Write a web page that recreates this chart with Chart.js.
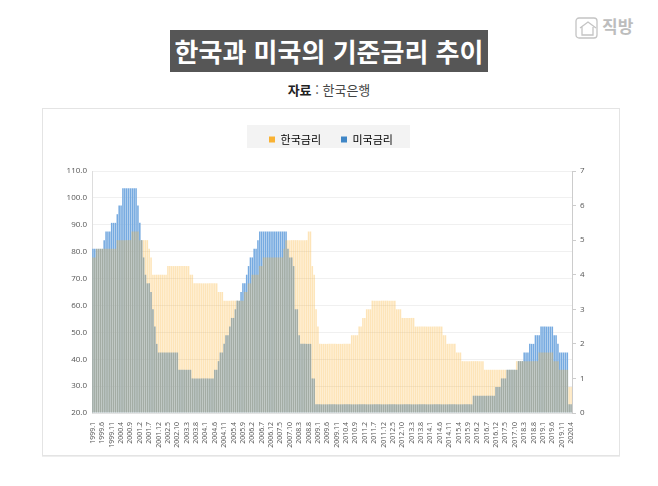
<!DOCTYPE html>
<html lang="ko">
<head>
<meta charset="utf-8">
<title>한국과 미국의 기준금리 추이</title>
<script src="https://cdn.jsdelivr.net/npm/chart.js@4"></script>
<style>
    body { margin: 0; background: #fff; font-family: "Noto Sans CJK KR", sans-serif; }
    #page { position: relative; width: 658px; height: 486px; overflow: hidden; }
    #title { position: absolute; left: 170px; top: 30px; width: 318px; height: 42px; background: #565656; color: #fff;
        font-size: 26px; font-weight: 700; line-height: 41px; text-align: center; white-space: nowrap; }
    #source { position: absolute; left: 170px; top: 81px; width: 318px; text-align: center; font-size: 13px; line-height: 18px; color: #444; }
    #source b { color: #222; }
    #logo { position: absolute; left: 575px; top: 14px; color: #bdbdbd; font-size: 17px; font-weight: 700; line-height: 24px; }
    #logo svg { position: absolute; left: 0; top: 2px; }
    #logo span { position: absolute; left: 27px; top: 0; white-space: nowrap; }
    #card { position: absolute; left: 42px; top: 108px; width: 576px; height: 346px; border: 1px solid #e4e4e4; box-shadow: 0 1px 0 #eee; }
    #legendBg { position: absolute; left: 247px; top: 125px; width: 163px; height: 23px; background: #f3f3f3; }
    #rateChart { position: absolute; left: 43px; top: 109px; }
</style>
</head>
<body>
<div id="page">
    <div id="title">한국과 미국의 기준금리 추이</div>
    <div id="source"><b>자료</b> : 한국은행</div>
    <div id="logo">
        <svg width="24" height="24" viewBox="0 0 24 24" fill="none" stroke="#c4c4c4" stroke-width="1.3">
            <rect x="1" y="2" width="21" height="20" rx="3"/>
            <path d="M5 12 L13 6 L21 12 M7 11 V19 H18 V11"/>
        </svg>
        <span>직방</span>
    </div>
    <div id="card"></div>
    <div id="legendBg"></div>
    <canvas id="rateChart" width="576" height="346"></canvas>
</div>
<script>
const months = [
    '1999.1','1999.2','1999.3','1999.4','1999.5','1999.6','1999.7','1999.8','1999.9','1999.10','1999.11','1999.12',
    '2000.1','2000.2','2000.3','2000.4','2000.5','2000.6','2000.7','2000.8','2000.9','2000.10','2000.11','2000.12',
    '2001.1','2001.2','2001.3','2001.4','2001.5','2001.6','2001.7','2001.8','2001.9','2001.10','2001.11','2001.12',
    '2002.1','2002.2','2002.3','2002.4','2002.5','2002.6','2002.7','2002.8','2002.9','2002.10','2002.11','2002.12',
    '2003.1','2003.2','2003.3','2003.4','2003.5','2003.6','2003.7','2003.8','2003.9','2003.10','2003.11','2003.12',
    '2004.1','2004.2','2004.3','2004.4','2004.5','2004.6','2004.7','2004.8','2004.9','2004.10','2004.11','2004.12',
    '2005.1','2005.2','2005.3','2005.4','2005.5','2005.6','2005.7','2005.8','2005.9','2005.10','2005.11','2005.12',
    '2006.1','2006.2','2006.3','2006.4','2006.5','2006.6','2006.7','2006.8','2006.9','2006.10','2006.11','2006.12',
    '2007.1','2007.2','2007.3','2007.4','2007.5','2007.6','2007.7','2007.8','2007.9','2007.10','2007.11','2007.12',
    '2008.1','2008.2','2008.3','2008.4','2008.5','2008.6','2008.7','2008.8','2008.9','2008.10','2008.11','2008.12',
    '2009.1','2009.2','2009.3','2009.4','2009.5','2009.6','2009.7','2009.8','2009.9','2009.10','2009.11','2009.12',
    '2010.1','2010.2','2010.3','2010.4','2010.5','2010.6','2010.7','2010.8','2010.9','2010.10','2010.11','2010.12',
    '2011.1','2011.2','2011.3','2011.4','2011.5','2011.6','2011.7','2011.8','2011.9','2011.10','2011.11','2011.12',
    '2012.1','2012.2','2012.3','2012.4','2012.5','2012.6','2012.7','2012.8','2012.9','2012.10','2012.11','2012.12',
    '2013.1','2013.2','2013.3','2013.4','2013.5','2013.6','2013.7','2013.8','2013.9','2013.10','2013.11','2013.12',
    '2014.1','2014.2','2014.3','2014.4','2014.5','2014.6','2014.7','2014.8','2014.9','2014.10','2014.11','2014.12',
    '2015.1','2015.2','2015.3','2015.4','2015.5','2015.6','2015.7','2015.8','2015.9','2015.10','2015.11','2015.12',
    '2016.1','2016.2','2016.3','2016.4','2016.5','2016.6','2016.7','2016.8','2016.9','2016.10','2016.11','2016.12',
    '2017.1','2017.2','2017.3','2017.4','2017.5','2017.6','2017.7','2017.8','2017.9','2017.10','2017.11','2017.12',
    '2018.1','2018.2','2018.3','2018.4','2018.5','2018.6','2018.7','2018.8','2018.9','2018.10','2018.11','2018.12',
    '2019.1','2019.2','2019.3','2019.4','2019.5','2019.6','2019.7','2019.8','2019.9','2019.10','2019.11','2019.12',
    '2020.1','2020.2','2020.3','2020.4'
];

// 한 줄이 1년치 (1월~12월)
const koreaRate = [
    4.5,4.5,4.75,4.75,4.75,4.75,4.75,4.75,4.75,4.75,4.75,4.75,
    4.75,5,5,5,5,5,5,5,5,5.25,5.25,5.25,
    5.25,5,5,5,5,5,4.75,4.5,4,4,4,4,
    4,4,4,4,4.25,4.25,4.25,4.25,4.25,4.25,4.25,4.25,
    4.25,4.25,4.25,4.25,4,4,3.75,3.75,3.75,3.75,3.75,3.75,
    3.75,3.75,3.75,3.75,3.75,3.75,3.75,3.5,3.5,3.5,3.25,3.25,
    3.25,3.25,3.25,3.25,3.25,3.25,3.25,3.25,3.25,3.5,3.5,3.75,
    3.75,4,4,4,4,4.25,4.25,4.5,4.5,4.5,4.5,4.5,
    4.5,4.5,4.5,4.5,4.5,4.5,4.75,5,5,5,5,5,
    5,5,5,5,5,5,5,5.25,5.25,4.25,4,3,
    2.5,2,2,2,2,2,2,2,2,2,2,2,
    2,2,2,2,2,2,2.25,2.25,2.25,2.25,2.5,2.5,
    2.75,2.75,3,3,3,3.25,3.25,3.25,3.25,3.25,3.25,3.25,
    3.25,3.25,3.25,3.25,3.25,3.25,3,3,3,2.75,2.75,2.75,
    2.75,2.75,2.75,2.75,2.5,2.5,2.5,2.5,2.5,2.5,2.5,2.5,
    2.5,2.5,2.5,2.5,2.5,2.5,2.5,2.25,2.25,2,2,2,
    2,2,1.75,1.75,1.75,1.5,1.5,1.5,1.5,1.5,1.5,1.5,
    1.5,1.5,1.5,1.5,1.5,1.25,1.25,1.25,1.25,1.25,1.25,1.25,
    1.25,1.25,1.25,1.25,1.25,1.25,1.25,1.25,1.25,1.25,1.5,1.5,
    1.5,1.5,1.5,1.5,1.5,1.5,1.5,1.5,1.5,1.5,1.75,1.75,
    1.75,1.75,1.75,1.75,1.75,1.75,1.5,1.5,1.5,1.25,1.25,1.25,
    1.25,1.25,0.75,0.75
];

const usRate = [
    4.75,4.75,4.75,4.75,4.75,4.75,5,5.25,5.25,5.25,5.5,5.5,
    5.5,5.75,6,6,6.5,6.5,6.5,6.5,6.5,6.5,6.5,6.5,
    6,5.5,5,4.5,4,3.75,3.75,3.5,3,2.5,2,1.75,
    1.75,1.75,1.75,1.75,1.75,1.75,1.75,1.75,1.75,1.75,1.25,1.25,
    1.25,1.25,1.25,1.25,1.25,1,1,1,1,1,1,1,
    1,1,1,1,1,1.25,1.25,1.5,1.75,1.75,2,2.25,
    2.25,2.5,2.75,2.75,3,3.25,3.25,3.5,3.75,3.75,4,4.25,
    4.5,4.5,4.75,4.75,5,5.25,5.25,5.25,5.25,5.25,5.25,5.25,
    5.25,5.25,5.25,5.25,5.25,5.25,5.25,5.25,4.75,4.5,4.5,4.25,
    3,3,2.25,2,2,2,2,2,2,1,1,0.25,
    0.25,0.25,0.25,0.25,0.25,0.25,0.25,0.25,0.25,0.25,0.25,0.25,
    0.25,0.25,0.25,0.25,0.25,0.25,0.25,0.25,0.25,0.25,0.25,0.25,
    0.25,0.25,0.25,0.25,0.25,0.25,0.25,0.25,0.25,0.25,0.25,0.25,
    0.25,0.25,0.25,0.25,0.25,0.25,0.25,0.25,0.25,0.25,0.25,0.25,
    0.25,0.25,0.25,0.25,0.25,0.25,0.25,0.25,0.25,0.25,0.25,0.25,
    0.25,0.25,0.25,0.25,0.25,0.25,0.25,0.25,0.25,0.25,0.25,0.25,
    0.25,0.25,0.25,0.25,0.25,0.25,0.25,0.25,0.25,0.25,0.25,0.5,
    0.5,0.5,0.5,0.5,0.5,0.5,0.5,0.5,0.5,0.5,0.5,0.75,
    0.75,0.75,1,1,1,1.25,1.25,1.25,1.25,1.25,1.25,1.5,
    1.5,1.5,1.75,1.75,1.75,2,2,2,2.25,2.25,2.25,2.5,
    2.5,2.5,2.5,2.5,2.5,2.5,2.25,2.25,2,1.75,1.75,1.75,
    1.75,1.75,0.25,0.25
];

const leftTicks = [20, 30, 40, 50, 60, 70, 80, 90, 100, 110];
const rightTicks = [0, 1, 2, 3, 4, 5, 6, 7];
const seriesNames = ['한국금리', '미국금리'];

const tickFont = { family: '"Open Sans", sans-serif', size: 8 };

new Chart(document.getElementById('rateChart').getContext('2d'), {
    type: 'bar',
    data: {
        labels: months,
        datasets: [
            // 한국금리를 위에 겹쳐 그림
            { label: seriesNames[0], data: koreaRate, yAxisID: 'y1', order: 1, backgroundColor: 'rgba(249, 178, 51, 0.35)' },
            { label: seriesNames[1], data: usRate, yAxisID: 'y1', order: 2, backgroundColor: 'rgb(118, 170, 224)' }
        ]
    },
    options: {
        responsive: false,
        animation: false,
        layout: { padding: { top: 5 } },
        datasets: { bar: { grouped: false, categoryPercentage: 1, barPercentage: 0.82 } },
        plugins: {
            tooltip: { enabled: false },
            legend: {
                labels: {
                    font: { family: '"Noto Sans CJK KR", sans-serif', size: 11 },
                    color: '#444',
                    boxWidth: 6,
                    boxHeight: 6,
                    padding: 20,
                    generateLabels: function () {
                        return [
                            { text: seriesNames[0], fillStyle: '#f9b233', strokeStyle: '#f9b233', lineWidth: 0, datasetIndex: 0 },
                            { text: seriesNames[1], fillStyle: '#3f86c6', strokeStyle: '#3f86c6', lineWidth: 0, datasetIndex: 1 }
                        ];
                    }
                }
            }
        },
        scales: {
            x: {
                grid: { display: false },
                border: { color: '#e3e3e3' },
                afterFit: function (scale) { scale.height = 42; },
                ticks: {
                    autoSkip: false,
                    minRotation: 90,
                    maxRotation: 90,
                    padding: 1,
                    font: { family: '"Open Sans", sans-serif', size: 7 },
                    color: '#555',
                    callback: function (value, index) {
                        return index % 5 === 0 ? months[index] : '';
                    }
                }
            },
            y: {
                position: 'left',
                min: leftTicks[0],
                max: leftTicks[leftTicks.length - 1],
                afterFit: function (scale) { scale.width = 49; },
                afterBuildTicks: function (scale) { scale.ticks = leftTicks.map(v => ({ value: v })); },
                grid: { color: '#f0f0f0', drawTicks: false },
                border: { color: '#dddddd' },
                ticks: { font: tickFont, color: '#555', padding: 5, callback: v => v.toFixed(1) }
            },
            y1: {
                position: 'right',
                min: rightTicks[0],
                max: rightTicks[rightTicks.length - 1],
                afterFit: function (scale) { scale.width = 47; },
                afterBuildTicks: function (scale) { scale.ticks = rightTicks.map(v => ({ value: v })); },
                grid: { drawOnChartArea: false, color: '#cccccc', tickLength: 4 },
                border: { color: '#cccccc' },
                ticks: { font: tickFont, color: '#555', padding: 4 }
            }
        }
    },
    plugins: [{
        // 범례 아래 여백을 늘려서 차트 영역 위치를 맞춤
        id: 'legendGap',
        beforeInit: function (chart) {
            const fit = chart.legend.fit;
            chart.legend.fit = function () {
                fit.call(this);
                this.height += 16;
            };
        }
    }]
});
</script>
</body>
</html>
